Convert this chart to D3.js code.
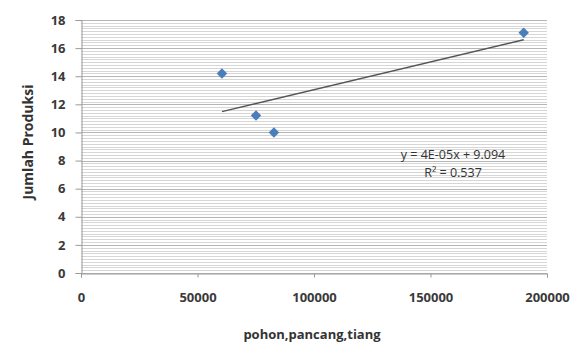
<!DOCTYPE html>
<html>
<head>
<meta charset="utf-8">
<script src="https://d3js.org/d3.v7.min.js"></script>
<style>
  body { margin: 0; background: #fff; }
  text { font-family: "Open Sans", "Liberation Sans", sans-serif; }
</style>
</head>
<body>
<svg width="573" height="354"></svg>
<script>
// data
var xValues = [60500, 75100, 82800, 190000];
var yValues = [14.2, 11.2, 10.0, 17.1];
var xTicks = [0, 50000, 100000, 150000, 200000];
var yTicks = [0, 2, 4, 6, 8, 10, 12, 14, 16, 18];
var eqLabel = "y = 4E-05x + 9.094";
var r2Label = "R\u00b2 = 0.537";

var svg = d3.select("svg");

var xs = d3.scaleLinear().domain([0, 200000]).range([81, 547]);
var ys = d3.scaleLinear().domain([0, 18]).range([273, 20]);

// minor grid (every 0.2) then major grid
var minor = d3.range(0, 18.01, 0.2);
svg.append("g").selectAll("line")
  .data(minor)
  .enter().append("line")
    .attr("x1", xs(0)).attr("x2", xs(200000))
    .attr("y1", d => Math.round(ys(d)) + 0.5)
    .attr("y2", d => Math.round(ys(d)) + 0.5)
    .style("stroke", "#d6d6d6")
    .style("stroke-width", 1);

svg.append("g").selectAll("line")
  .data(yTicks)
  .enter().append("line")
    .attr("x1", xs(0)).attr("x2", xs(200000))
    .attr("y1", d => Math.round(ys(d)) + 0.5)
    .attr("y2", d => Math.round(ys(d)) + 0.5)
    .style("stroke", "#b5b5b5");

// Y axis
var yAxis = svg.append("g")
  .attr("transform", "translate(" + (xs(0) + 0.5) + ",0)")
  .call(d3.axisLeft(ys).tickValues(yTicks).tickSize(6).tickPadding(10));
yAxis.selectAll("text")
  .style("font-size", "13px")
  .style("font-weight", "bold")
  .style("fill", "#3a3a3a");

// X axis
var xAxis = svg.append("g")
  .attr("transform", "translate(0," + (Math.round(ys(0)) + 0.5) + ")")
  .call(d3.axisBottom(xs).tickValues(xTicks).tickFormat(d3.format("d")).tickSize(4).tickPadding(15));
xAxis.selectAll("text")
  .style("font-size", "13px")
  .style("font-weight", "bold")
  .style("fill", "#3a3a3a");

svg.selectAll(".domain, .tick line").style("stroke", "#9a9a9a");

// trend line (least squares from the points)
var mx = d3.mean(xValues), my = d3.mean(yValues);
var sxy = d3.sum(xValues, (x, i) => (x - mx) * (yValues[i] - my));
var sxx = d3.sum(xValues, x => (x - mx) * (x - mx));
var slope = sxy / sxx, intercept = my - slope * mx;
var xMin = d3.min(xValues), xMax = d3.max(xValues);

svg.append("line")
  .attr("x1", xs(xMin)).attr("y1", ys(slope * xMin + intercept))
  .attr("x2", xs(xMax)).attr("y2", ys(slope * xMax + intercept))
  .style("stroke", "#555")
  .style("stroke-width", 1.5);

// points
svg.append("g").selectAll("path")
  .data(xValues)
  .enter().append("path")
    .attr("d", d3.symbol().type(d3.symbolDiamond2).size(70))
    .attr("transform", (d, i) => "translate(" + xs(d) + "," + ys(yValues[i]) + ")")
    .style("fill", "#4a7ebb");

// equation
svg.append("text")
  .attr("x", 453).attr("y", 159)
  .style("text-anchor", "middle")
  .style("font-size", "12.5px")
  .style("fill", "#333")
  .text(eqLabel);
svg.append("text")
  .attr("x", 453).attr("y", 177)
  .style("text-anchor", "middle")
  .style("font-size", "12.5px")
  .style("fill", "#333")
  .text(r2Label);

// axis titles
svg.append("text")
  .attr("transform", "rotate(-90)")
  .attr("x", -142).attr("y", 33)
  .style("text-anchor", "middle")
  .style("font-size", "14px")
  .style("font-weight", "bold")
  .style("fill", "#333")
  .text("Jumlah Produksi");

svg.append("text")
  .attr("x", 312).attr("y", 339)
  .style("text-anchor", "middle")
  .style("font-size", "13px")
  .style("font-weight", "bold")
  .style("fill", "#333")
  .text("pohon,pancang,tiang");
</script>
</body>
</html>
